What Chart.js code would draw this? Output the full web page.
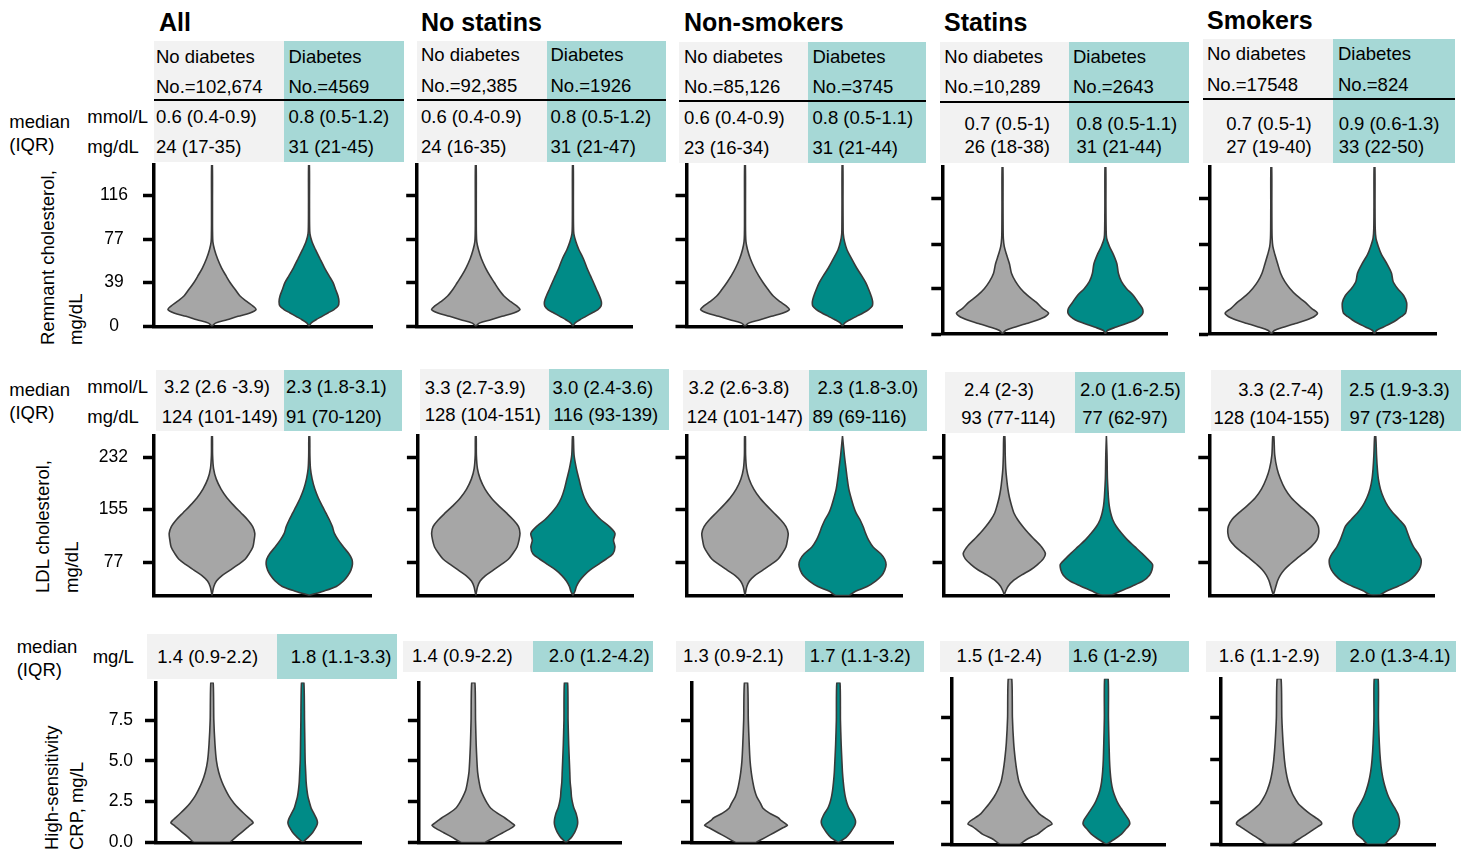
<!DOCTYPE html>
<html lang="en">
<head>
<meta charset="utf-8">
<title>Remnant cholesterol, LDL cholesterol and hs-CRP by diabetes status</title>
<script src="https://cdn.jsdelivr.net/npm/chart.js@4.4.1/dist/chart.umd.min.js"></script>
<style>
  html, body { margin: 0; padding: 0; background: #fff; }
  #page { position: relative; width: 1464px; height: 855px; overflow: hidden;
          font-family: "Liberation Sans", Arial, Helvetica, sans-serif; color: #000; }
  .cell { position: absolute; }
  .rule { position: absolute; height: 2px; background: #000; }
  .txt { position: absolute; white-space: nowrap; font-size: 18.5px; line-height: 22px; }
  .ttl { position: absolute; white-space: nowrap; font-size: 25px; line-height: 30px; font-weight: bold; }
  .rot { position: absolute; white-space: nowrap; font-size: 18.5px; line-height: 22px;
         transform: rotate(-90deg); transform-origin: 0 0; }
  canvas { position: absolute; }
</style>
</head>
<body>
<div id="page"></div>
<script>
// ---------------- Table contents ----------------
const cohorts = ['All', 'No statins', 'Non-smokers', 'Statins', 'Smokers'];
const groupNames = ['No diabetes', 'Diabetes'];
const nNoDiabetes = ['No.=102,674', 'No.=92,385', 'No.=85,126', 'No.=10,289', 'No.=17548'];
const nDiabetes = ['No.=4569', 'No.=1926', 'No.=3745', 'No.=2643', 'No.=824'];

const remnantMmolNoDiabetes = ['0.6 (0.4-0.9)', '0.6 (0.4-0.9)', '0.6 (0.4-0.9)', '0.7 (0.5-1)', '0.7 (0.5-1)'];
const remnantMmolDiabetes = ['0.8 (0.5-1.2)', '0.8 (0.5-1.2)', '0.8 (0.5-1.1)', '0.8 (0.5-1.1)', '0.9 (0.6-1.3)'];
const remnantMgNoDiabetes = ['24 (17-35)', '24 (16-35)', '23 (16-34)', '26 (18-38)', '27 (19-40)'];
const remnantMgDiabetes = ['31 (21-45)', '31 (21-47)', '31 (21-44)', '31 (21-44)', '33 (22-50)'];

const ldlMmolNoDiabetes = ['3.2 (2.6 -3.9)', '3.3 (2.7-3.9)', '3.2 (2.6-3.8)', '2.4 (2-3)', '3.3 (2.7-4)'];
const ldlMmolDiabetes = ['2.3 (1.8-3.1)', '3.0 (2.4-3.6)', '2.3 (1.8-3.0)', '2.0 (1.6-2.5)', '2.5 (1.9-3.3)'];
const ldlMgNoDiabetes = ['124 (101-149)', '128 (104-151)', '124 (101-147)', '93 (77-114)', '128 (104-155)'];
const ldlMgDiabetes = ['91 (70-120)', '116 (93-139)', '89 (69-116)', '77 (62-97)', '97 (73-128)'];

const crpNoDiabetes = ['1.4 (0.9-2.2)', '1.4 (0.9-2.2)', '1.3 (0.9-2.1)', '1.5 (1-2.4)', '1.6 (1.1-2.9)'];
const crpDiabetes = ['1.8 (1.1-3.3)', '2.0 (1.2-4.2)', '1.7 (1.1-3.2)', '1.6 (1-2.9)', '2.0 (1.3-4.1)'];

// ---------------- Axis ticks ----------------
const remnantTicks = [0, 39, 77, 116];
const remnantTickLabels = ['0', '39', '77', '116'];
const ldlTicks = [77, 155, 232];
const ldlTickLabels = ['77', '155', '232'];
const crpTicks = [0, 2.5, 5, 7.5];
const crpTickLabels = ['0.0', '2.5', '5.0', '7.5'];

// ---------------- Violin densities ----------------
// Half-widths of each violin (in units of the spacing between the two groups),
// evaluated at the value levels listed for each measure. One array per cohort.
const remnantLevels = [0, 3, 6, 9, 12, 15, 18, 22, 27, 33, 39, 45, 52, 60, 68, 75, 82, 90, 110, 143];
const remnantNoDiabetes = [
  [0, .036, .155, .268, .392, .454, .423, .361, .289, .237, .186, .144, .098, .057, .026, .009, .006, .005, .005, .004],
  [0, .036, .155, .27, .39, .455, .425, .36, .29, .235, .19, .145, .1, .058, .028, .01, .006, .005, .005, .004],
  [0, .036, .155, .27, .39, .455, .425, .36, .29, .235, .185, .14, .096, .055, .026, .01, .006, .005, .005, .004],
  [0, .029, .126, .233, .34, .417, .447, .388, .33, .243, .175, .126, .087, .068, .039, .017, .008, .006, .005, .004],
  [0, .029, .126, .233, .34, .417, .447, .39, .33, .245, .18, .13, .09, .062, .035, .015, .008, .006, .005, .004]
];
const remnantDiabetes = [
  [0, .021, .072, .134, .196, .258, .299, .309, .299, .273, .247, .206, .16, .113, .067, .031, .01, .006, .005, .004],
  [0, .021, .072, .134, .196, .258, .289, .293, .273, .242, .212, .18, .144, .108, .062, .031, .01, .006, .005, .004],
  [0, .021, .077, .144, .211, .268, .304, .309, .294, .268, .237, .196, .144, .093, .046, .021, .008, .006, .005, .004],
  [0, .019, .107, .204, .291, .34, .364, .359, .32, .272, .204, .155, .126, .112, .078, .039, .012, .007, .005, .004],
  [0, .019, .087, .155, .214, .262, .301, .311, .311, .282, .223, .18, .165, .121, .068, .037, .014, .007, .005, .004]
];

const ldlLevels = [29, 35, 42, 50, 58, 66, 74, 82, 90, 100, 110, 120, 130, 140, 150, 160, 172, 185, 200, 215, 235, 263];
const ldlNoDiabetes = [
  [0, .008, .019, .046, .103, .186, .268, .34, .381, .42, .433, .44, .418, .366, .299, .23, .155, .093, .043, .016, .006, .004],
  [0, .008, .019, .045, .1, .18, .26, .335, .38, .425, .445, .455, .44, .385, .315, .24, .16, .095, .045, .017, .006, .004],
  [0, .008, .019, .046, .1, .183, .265, .338, .38, .42, .435, .443, .42, .365, .297, .228, .153, .09, .042, .016, .006, .004],
  [0, .015, .039, .088, .167, .259, .328, .382, .402, .363, .299, .235, .179, .13, .093, .072, .051, .035, .023, .014, .009, .005],
  [0, .013, .026, .043, .069, .108, .164, .227, .294, .373, .428, .446, .441, .405, .336, .258, .176, .115, .069, .037, .014, .005]
];
const ldlDiabetes = [
  [0, .144, .278, .351, .397, .428, .443, .438, .407, .351, .299, .258, .237, .206, .17, .134, .093, .057, .029, .012, .006, .004],
  [0, .021, .036, .067, .113, .175, .258, .34, .412, .433, .418, .433, .376, .289, .222, .165, .119, .088, .062, .036, .012, .004],
  [.072, .134, .253, .34, .402, .433, .447, .433, .392, .314, .268, .237, .211, .18, .139, .113, .088, .065, .049, .036, .019, 0],
  [.059, .147, .255, .363, .422, .447, .451, .402, .348, .277, .206, .147, .096, .061, .041, .028, .02, .015, .01, .008, .006, 0],
  [.049, .118, .23, .333, .392, .431, .449, .449, .422, .375, .343, .318, .292, .235, .173, .123, .082, .051, .031, .021, .013, .005]
];

const crpLevels = [0, 0.3, 0.6, 0.9, 1.05, 1.2, 1.35, 1.5, 1.8, 2.1, 2.4, 2.8, 3.2, 3.7, 4.3, 5.0, 6.0, 7.5, 9.8];
const crpNoDiabetesDensity = [
  [.198, .26, .324, .388, .42, .454, .434, .404, .346, .291, .242, .19, .151, .11, .074, .049, .033, .02, .013],
  [.126, .221, .318, .413, .446, .413, .378, .342, .259, .189, .151, .113, .082, .063, .047, .039, .031, .024, .017],
  [.108, .206, .303, .4, .449, .417, .379, .352, .254, .184, .157, .117, .093, .074, .057, .044, .035, .025, .017],
  [.101, .176, .285, .353, .389, .436, .418, .379, .304, .259, .216, .166, .128, .093, .072, .055, .038, .025, .018],
  [.124, .201, .283, .36, .4, .438, .429, .396, .319, .255, .198, .154, .122, .093, .071, .055, .041, .028, .02]
];
const crpDiabetesDensity = [
  [0, .06, .11, .143, .156, .163, .158, .148, .121, .093, .077, .058, .047, .038, .033, .027, .024, .02, .013],
  [0, .056, .092, .115, .122, .126, .125, .121, .108, .086, .072, .059, .054, .045, .041, .036, .029, .022, .017],
  [0, .081, .127, .162, .177, .185, .184, .175, .149, .114, .093, .075, .063, .053, .044, .038, .03, .022, .017],
  [0, .083, .156, .202, .226, .242, .239, .226, .191, .156, .122, .091, .067, .05, .039, .032, .027, .021, .018],
  [.088, .139, .201, .227, .235, .239, .24, .237, .223, .196, .164, .128, .102, .077, .057, .043, .032, .023, .02]
];

// ---------------- Layout (page pixels) ----------------
const titleX = [159, 421, 684, 944, 1207];
const titleY = [22, 22, 22, 22, 20];

// [grey cell left, split, teal cell right, top, bottom]
const boxes1 = [[154, 284, 404, 41, 162], [417, 546.5, 666, 41, 162], [679, 808, 926, 41.7, 162.7],
                [940, 1069, 1189, 41.7, 162.7], [1202.5, 1333, 1455, 39.3, 162.7]];
const rule1 = [100, 100, 100.7, 101.7, 99];
const head1X = [[156, 288.5], [421, 550.5], [684, 812.5], [944.3, 1073], [1207, 1338]];
const head1Y = [[56.7, 87], [55, 86], [57.3, 87.3], [57.3, 87.3], [54.3, 85]];
const val1X = [[156, 288.5], [421, 550.5], [684, 812.5], [964.5, 1076.5], [1226.3, 1338.7]];
const val1Y = [[116.7, 146.7], [116.7, 146.5], [118, 148], [124, 146.7], [124, 146.7]];

const boxes2 = [[156, 284, 401.7, 370, 430.7], [420, 549, 668.6, 369.3, 430], [683, 809, 926.9, 370, 430.7],
                [945.3, 1075.4, 1185.4, 371.7, 432.7], [1211, 1341, 1461.3, 370, 430.7]];
const val2X = [[164, 161.7, 286, 286], [424.8, 424.8, 552.5, 553.6], [688.6, 686.8, 817.4, 812.5],
               [964, 961.3, 1079.9, 1082.2], [1238.2, 1213.4, 1348.9, 1349.6]];
const val2Y = [[386.7, 416.7], [388.3, 415], [388.3, 416.7], [390, 418.3], [390, 418.3]];

const boxes3 = [[147.3, 277.3, 396.7, 634, 679], [403.4, 533, 653, 640.7, 671.7], [675.5, 805, 924.4, 640.7, 671.7],
                [940.2, 1069, 1189, 640.7, 671.7], [1206, 1336, 1456.2, 640.7, 671.7]];
const val3X = [[157.3, 290.7], [412, 548.8], [683, 809.8], [956.6, 1072.4], [1218.8, 1349.6]];
const val3Y = [657.3, 656, 656, 656, 656];

// plot frames: [y-axis x, x-axis right end, top, bottom, No-diabetes centre, Diabetes centre]
const remnantFrames = [[154, 372, 165, 326.5, 212, 309], [417.2, 632.8, 165, 326.5, 475.8, 572.9],
                       [686.5, 902, 165, 326.5, 745, 842.5], [942.3, 1167.7, 167, 334, 1002.5, 1105.4],
                       [1210, 1436.8, 167, 334, 1271.3, 1374.5]];
const ldlFrames = [[154, 371.7, 436, 596, 212, 309.3], [417.9, 633.5, 436, 596, 475.8, 572.9],
                   [686.5, 902.8, 436, 596, 745, 842.5], [943.6, 1169.4, 436, 595.5, 1004.3, 1106.4],
                   [1209.3, 1434, 436, 595.5, 1273.3, 1375.2]];
const crpFrames = [[156, 361.7, 682.6, 842.3, 212, 302.7], [418.9, 621, 682.6, 842.5, 473.3, 566],
                   [692, 893.5, 682.6, 842.5, 746, 838.4], [952.1, 1165, 678.7, 844.3, 1010, 1106.4],
                   [1221.2, 1435.8, 678.7, 844.3, 1279.1, 1376.2]];

// ---------------- Styles ----------------
const GREY_FILL = '#a6a6a6';
const TEAL_FILL = '#008b87';
const OUTLINE = '#3a3a3a';
const GREY_CELL = '#f2f2f2';
const TEAL_CELL = '#a6d8d6';
const FONT = "'Liberation Sans', Arial, Helvetica, sans-serif";

const page = document.getElementById('page');

function addText(cls, text, x, y, lh) {
  const d = document.createElement('div');
  d.className = cls;
  d.textContent = text;
  d.style.left = x + 'px';
  d.style.top = (y - lh / 2) + 'px';
  page.appendChild(d);
}
function addCell(x0, x1, y0, y1, color) {
  const d = document.createElement('div');
  d.className = 'cell';
  d.style.left = x0 + 'px';
  d.style.top = y0 + 'px';
  d.style.width = (x1 - x0) + 'px';
  d.style.height = (y1 - y0) + 'px';
  d.style.background = color;
  page.appendChild(d);
}
function addRule(x0, x1, y) {
  const d = document.createElement('div');
  d.className = 'rule';
  d.style.left = x0 + 'px';
  d.style.top = (y - 1) + 'px';
  d.style.width = (x1 - x0) + 'px';
  page.appendChild(d);
}
function addRotated(text, xc, yBottom) {
  const d = document.createElement('div');
  d.className = 'rot';
  d.textContent = text;
  d.style.left = (xc - 11) + 'px';
  d.style.top = yBottom + 'px';
  page.appendChild(d);
}

// ---------------- Cells and text ----------------
for (let c = 0; c < 5; c++) {
  const b1 = boxes1[c], b2 = boxes2[c], b3 = boxes3[c];
  addCell(b1[0], b1[1], b1[3], b1[4], GREY_CELL);
  addCell(b1[1], b1[2], b1[3], b1[4], TEAL_CELL);
  addCell(b2[0], b2[1], b2[3], b2[4], GREY_CELL);
  addCell(b2[1], b2[2], b2[3], b2[4], TEAL_CELL);
  addCell(b3[0], b3[1], b3[3], b3[4], GREY_CELL);
  addCell(b3[1], b3[2], b3[3], b3[4], TEAL_CELL);
  addRule(b1[0], b1[2], rule1[c]);

  addText('ttl', cohorts[c], titleX[c], titleY[c], 30);

  addText('txt', groupNames[0], head1X[c][0], head1Y[c][0], 22);
  addText('txt', groupNames[1], head1X[c][1], head1Y[c][0], 22);
  addText('txt', nNoDiabetes[c], head1X[c][0], head1Y[c][1], 22);
  addText('txt', nDiabetes[c], head1X[c][1], head1Y[c][1], 22);

  addText('txt', remnantMmolNoDiabetes[c], val1X[c][0], val1Y[c][0], 22);
  addText('txt', remnantMgNoDiabetes[c], val1X[c][0], val1Y[c][1], 22);
  addText('txt', remnantMmolDiabetes[c], val1X[c][1], val1Y[c][0], 22);
  addText('txt', remnantMgDiabetes[c], val1X[c][1], val1Y[c][1], 22);

  addText('txt', ldlMmolNoDiabetes[c], val2X[c][0], val2Y[c][0], 22);
  addText('txt', ldlMgNoDiabetes[c], val2X[c][1], val2Y[c][1], 22);
  addText('txt', ldlMmolDiabetes[c], val2X[c][2], val2Y[c][0], 22);
  addText('txt', ldlMgDiabetes[c], val2X[c][3], val2Y[c][1], 22);

  addText('txt', crpNoDiabetes[c], val3X[c][0], val3Y[c], 22);
  addText('txt', crpDiabetes[c], val3X[c][1], val3Y[c], 22);
}

// row captions
addText('txt', 'median', 9.3, 121.7, 22);
addText('txt', '(IQR)', 9.3, 145, 22);
addText('txt', 'mmol/L', 87.3, 116.7, 22);
addText('txt', 'mg/dL', 87.3, 146.7, 22);

addText('txt', 'median', 9.3, 390, 22);
addText('txt', '(IQR)', 9.3, 413.3, 22);
addText('txt', 'mmol/L', 87.3, 386.7, 22);
addText('txt', 'mg/dL', 87.3, 416.7, 22);

addText('txt', 'median', 16.7, 646.7, 22);
addText('txt', '(IQR)', 16.7, 670, 22);
addText('txt', 'mg/L', 92.7, 657.3, 22);

// vertical axis titles
addRotated('Remnant cholesterol,', 48, 345);
addRotated('mg/dL', 76, 345);
addRotated('LDL cholesterol,', 43.3, 593.3);
addRotated('mg/dL', 71.7, 593.3);
addRotated('High-sensitivity', 51.7, 850);
addRotated('CRP, mg/L', 76.7, 850);

// ---------------- Violin charts ----------------
Chart.defaults.font.family = FONT;

// closed outline: right edge bottom->top, then left edge top->bottom
function violinOutline(levels, halfWidths, centre) {
  const right = levels.map((y, i) => ({ x: centre + halfWidths[i], y }));
  const left = levels.map((y, i) => ({ x: centre - halfWidths[i], y })).reverse();
  const pts = right.concat(left);
  pts.push({ x: pts[0].x, y: pts[0].y });
  return pts;
}

const Y_AXIS_W = 70;
const PAD_V = 40;
const PAD_R = 8;

const measures = [
  { levels: remnantLevels, noDiab: remnantNoDiabetes, diab: remnantDiabetes, min: 0, max: 143,
    ticks: remnantTicks, labels: remnantTickLabels, frames: remnantFrames, tension: 0.3, labelPad: 15 },
  { levels: ldlLevels, noDiab: ldlNoDiabetes, diab: ldlDiabetes, min: 28, max: 263,
    ticks: ldlTicks, labels: ldlTickLabels, frames: ldlFrames, tension: 0.3, labelPad: 15 },
  { levels: crpLevels, noDiab: crpNoDiabetesDensity, diab: crpDiabetesDensity, min: 0, max: 9.8,
    ticks: crpTicks, labels: crpTickLabels, frames: crpFrames, tension: 0.2, labelPad: 12 }
];

measures.forEach(m => {
  m.frames.forEach((f, c) => {
    const [left, right, top, bottom, gx, tx] = f;
    const unit = tx - gx;
    const xMin = 1 - (gx - left) / unit;
    const xMax = 2 + (right - tx) / unit;

    const cl = Math.floor(left - Y_AXIS_W);
    const ct = Math.floor(top - PAD_V);
    const W = Math.ceil(right + PAD_R) - cl;
    const H = Math.ceil(bottom + PAD_V) - ct;

    const canvas = document.createElement('canvas');
    canvas.width = W;
    canvas.height = H;
    canvas.style.left = cl + 'px';
    canvas.style.top = ct + 'px';
    canvas.style.width = W + 'px';
    canvas.style.height = H + 'px';
    page.appendChild(canvas);

    const violin = (widths, centre, fillColor) => ({
      data: violinOutline(m.levels, widths, centre),
      showLine: true,
      fill: 'shape',
      backgroundColor: fillColor,
      borderColor: OUTLINE,
      borderWidth: 1.6,
      borderJoinStyle: 'round',
      tension: m.tension,
      pointRadius: 0,
      pointHoverRadius: 0
    });

    new Chart(canvas, {
      type: 'scatter',
      data: {
        datasets: [
          violin(m.noDiab[c], 1, GREY_FILL),
          violin(m.diab[c], 2, TEAL_FILL)
        ]
      },
      options: {
        responsive: false,
        animation: false,
        events: [],
        layout: {
          padding: {
            left: left - Y_AXIS_W - cl,
            top: top - ct,
            right: cl + W - right,
            bottom: ct + H - bottom
          }
        },
        plugins: { legend: { display: false }, tooltip: { enabled: false } },
        scales: {
          x: {
            type: 'linear', min: xMin, max: xMax, z: 1,
            afterFit: s => { s.height = 0; },
            grid: { display: false, drawTicks: false },
            border: { display: true, color: '#000', width: 3.5 },
            ticks: { display: false }
          },
          y: {
            type: 'linear', position: 'left', min: m.min, max: m.max, z: 1,
            afterBuildTicks: s => { s.ticks = m.ticks.map(v => ({ value: v })); },
            afterFit: s => { s.width = Y_AXIS_W; },
            grid: { display: true, drawOnChartArea: false, drawTicks: true,
                    tickLength: 11, tickWidth: 3.5, tickColor: '#000' },
            border: { display: true, color: '#000', width: 3.5 },
            ticks: {
              display: c === 0,
              padding: m.labelPad,
              crossAlign: 'center',
              color: '#000',
              font: { family: FONT, size: 17.5 },
              callback: (v, i) => m.labels[i]
            }
          }
        }
      }
    });
  });
});
</script>
</body>
</html>
